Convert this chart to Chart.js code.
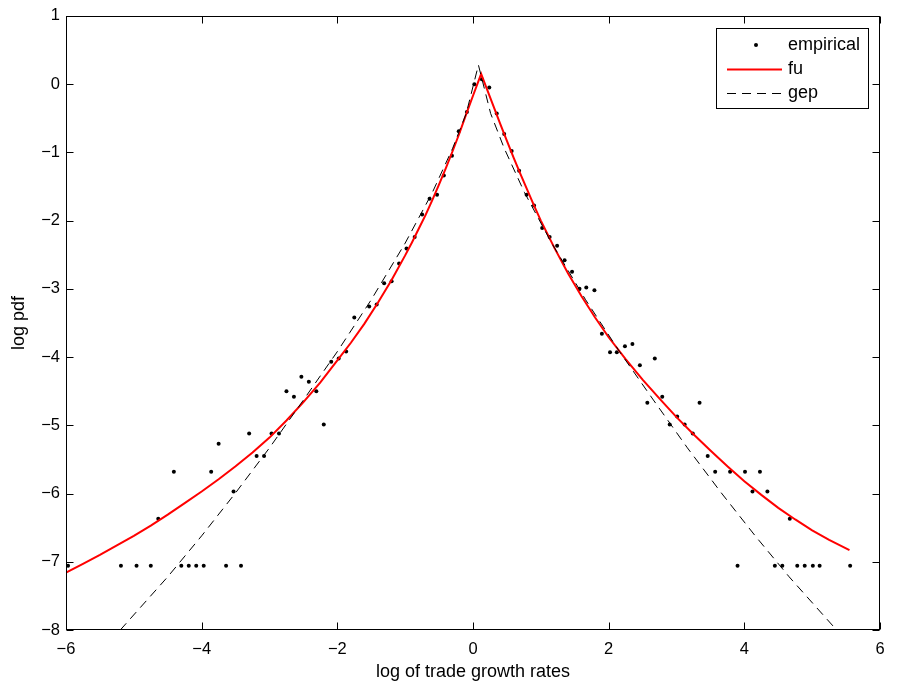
<!DOCTYPE html>
<html>
<head>
<meta charset="utf-8">
<script src="https://cdn.jsdelivr.net/npm/chart.js@4.4.0/dist/chart.umd.min.js"></script>
<style>
  html, body { margin: 0; padding: 0; background: #fff; }
  #wrap { width: 898px; height: 688px; }
</style>
</head>
<body>
<div id="wrap"><canvas id="chart" width="898" height="688"></canvas></div>
<script>
// empirical log pdf (binned)
const empX = [-5.97, -5.19, -4.96, -4.75, -4.64, -4.41, -4.30, -4.19, -4.08, -3.97,
  -3.86, -3.75, -3.64, -3.53, -3.42, -3.30, -3.19, -3.08, -2.97, -2.86,
  -2.75, -2.64, -2.53, -2.42, -2.31, -2.20, -2.09, -1.98, -1.87, -1.75,
  -1.53, -1.42, -1.31, -1.20, -1.09, -0.98, -0.86, -0.75, -0.64, -0.53,
  -0.43, -0.31, -0.21, -0.09, 0.02, 0.13, 0.24, 0.35, 0.46, 0.57,
  0.68, 0.79, 0.90, 1.02, 1.13, 1.24, 1.35, 1.46, 1.57, 1.67,
  1.79, 1.90, 2.02, 2.12, 2.24, 2.35, 2.46, 2.57, 2.68, 2.79,
  2.90, 3.01, 3.12, 3.24, 3.34, 3.46, 3.57, 3.79, 3.90, 4.01,
  4.12, 4.23, 4.34, 4.45, 4.56, 4.67, 4.78, 4.89, 5.01, 5.11, 5.56]
const empY = [-7.06, -7.06, -7.06, -7.06, -6.37, -5.68, -7.06, -7.06, -7.06, -7.06,
  -5.68, -5.27, -7.06, -5.97, -7.06, -5.12, -5.45, -5.45, -5.12, -5.12,
  -4.50, -4.58, -4.29, -4.36, -4.50, -4.99, -4.07, -4.02, -3.92, -3.42,
  -3.26, -3.23, -2.92, -2.89, -2.63, -2.41, -2.24, -1.91, -1.68, -1.62,
  -1.34, -1.05, -0.69, -0.41, 0.00, 0.07, -0.05, -0.43, -0.73, -0.98,
  -1.27, -1.62, -1.78, -2.11, -2.24, -2.37, -2.58, -2.75, -3.00, -2.98,
  -3.02, -3.66, -3.93, -3.93, -3.84, -3.81, -4.12, -4.67, -4.02, -4.58,
  -4.99, -4.87, -4.99, -5.12, -4.67, -5.45, -5.68, -5.68, -7.06, -5.68,
  -5.97, -5.68, -5.97, -7.06, -7.06, -6.37, -7.06, -7.06, -7.06, -7.06, -7.06]

// fu fit curve
const fuX = [-6.0, -5.75, -5.5, -5.25, -5.0, -4.75, -4.5, -4.25, -4.0, -3.75,
  -3.5, -3.25, -3.0, -2.75, -2.5, -2.25, -2.0, -1.8, -1.6, -1.4,
  -1.2, -1.0, -0.9, -0.8, -0.7, -0.6, -0.5, -0.4, -0.3, -0.2,
  -0.1, 0.0, 0.12, 0.2, 0.3, 0.4, 0.5, 0.6, 0.7, 0.8,
  0.9, 1.0, 1.2, 1.4, 1.6, 1.8, 2.0, 2.25, 2.5, 2.75,
  3.0, 3.25, 3.5, 3.75, 4.0, 4.25, 4.5, 4.75, 5.0, 5.25, 5.55]
const fuY = [-7.16, -7.03, -6.90, -6.76, -6.62, -6.47, -6.31, -6.14, -5.97, -5.79,
  -5.60, -5.40, -5.18, -4.93, -4.66, -4.37, -4.05, -3.79, -3.51, -3.20,
  -2.87, -2.51, -2.32, -2.12, -1.92, -1.70, -1.47, -1.23, -0.98, -0.72,
  -0.44, -0.17, 0.15, -0.06, -0.32, -0.58, -0.83, -1.08, -1.32, -1.55,
  -1.78, -2.00, -2.40, -2.77, -3.11, -3.42, -3.71, -4.03, -4.33, -4.61,
  -4.88, -5.13, -5.37, -5.60, -5.82, -6.02, -6.21, -6.38, -6.54, -6.68, -6.83]

// gep fit curve
const gepX = [-5.2, -4.5, -4.0, -3.5, -3.0, -2.5, -2.0, -1.5, -1.0, -0.6,
  -0.3, -0.1, 0.08, 0.26, 0.46, 0.76, 1.16, 1.66, 2.16, 2.66,
  3.16, 3.66, 4.16, 4.66, 5.36]
const gepY = [-8.0, -7.22, -6.62, -5.99, -5.33, -4.63, -3.92, -3.16, -2.33, -1.59,
  -0.94, -0.43, 0.28, -0.43, -0.94, -1.59, -2.33, -3.16, -3.92, -4.63,
  -5.33, -5.99, -6.62, -7.22, -8.0]

const xTicks = [-6, -4, -2, 0, 2, 4, 6]
const yTicks = [-8, -7, -6, -5, -4, -3, -2, -1, 0, 1]

const pairs = (xs, ys) => xs.map((x, i) => ({ x, y: ys[i] }))
const fmt = (v) => String(v).replace('-', '\u2212')
const FONT = "'Liberation Sans', Arial, Helvetica, sans-serif"

// MATLAB style box with inward ticks on all sides, plus the legend
const matlabFrame = {
  id: 'matlabFrame',
  afterDraw(chart) {
    const { ctx, chartArea: a, scales } = chart
    const L = Math.round(a.left) + 0.5, R = Math.round(a.right) - 0.5
    const T = Math.round(a.top) + 0.5, B = Math.round(a.bottom) - 0.5
    ctx.save()
    ctx.strokeStyle = '#000'
    ctx.lineWidth = 1
    ctx.strokeRect(L, T, R - L, B - T)
    const tl = 7
    ctx.beginPath()
    xTicks.forEach((v) => {
      const px = Math.round(scales.x.getPixelForValue(v)) + 0.5
      ctx.moveTo(px, B); ctx.lineTo(px, B - tl)
      ctx.moveTo(px, T); ctx.lineTo(px, T + tl)
    })
    yTicks.forEach((v) => {
      const py = Math.round(scales.y.getPixelForValue(v)) + 0.5
      ctx.moveTo(L, py); ctx.lineTo(L + tl, py)
      ctx.moveTo(R, py); ctx.lineTo(R - tl, py)
    })
    ctx.stroke()

    // legend
    const box = { x: 716.5, y: 28.5, w: 152, h: 80 }
    ctx.fillStyle = '#fff'
    ctx.fillRect(box.x, box.y, box.w, box.h)
    ctx.strokeRect(box.x, box.y, box.w, box.h)
    const rows = [45, 69, 93]
    ctx.font = '18px ' + FONT
    ctx.textBaseline = 'middle'
    ctx.textAlign = 'left'
    chart.data.datasets.forEach((ds, i) => {
      const y = rows[i]
      if (ds.showLine === false) {
        ctx.fillStyle = ds.pointBackgroundColor
        ctx.beginPath()
        ctx.arc(756, y, ds.pointRadius, 0, Math.PI * 2)
        ctx.fill()
      } else {
        ctx.strokeStyle = ds.borderColor
        ctx.lineWidth = ds.borderWidth
        ctx.setLineDash(ds.borderDash || [])
        ctx.beginPath()
        ctx.moveTo(727, y + 0.5)
        ctx.lineTo(782, y + 0.5)
        ctx.stroke()
        ctx.setLineDash([])
      }
      ctx.fillStyle = '#000'
      ctx.fillText(ds.label, 788, y)
    })
    ctx.restore()
  },
}

const tickStyle = { color: '#000', font: { family: FONT, size: 16.5 } }
const titleFont = { family: FONT, size: 18 }

new Chart(document.getElementById('chart'), {
  type: 'scatter',
  data: {
    datasets: [
      {
        label: 'empirical',
        data: pairs(empX, empY),
        showLine: false,
        pointRadius: 2,
        pointBackgroundColor: '#000',
        pointBorderWidth: 0,
        order: 3,
      },
      {
        label: 'fu',
        data: pairs(fuX, fuY),
        showLine: true,
        borderColor: '#ff0000',
        borderWidth: 2,
        pointRadius: 0,
        order: 2,
      },
      {
        label: 'gep',
        data: pairs(gepX, gepY),
        showLine: true,
        borderColor: '#000',
        borderWidth: 1,
        borderDash: [9, 6],
        pointRadius: 0,
        order: 1,
      },
    ],
  },
  options: {
    responsive: false,
    animation: false,
    devicePixelRatio: 1,
    layout: { padding: { left: 0, top: 15, right: 18, bottom: 5 } },
    scales: {
      x: {
        type: 'linear',
        min: -6,
        max: 6,
        afterFit: (s) => { s.height = 53 },
        afterBuildTicks: (s) => { s.ticks = xTicks.map((v) => ({ value: v })) },
        grid: { display: false, drawTicks: false },
        border: { display: false },
        ticks: { ...tickStyle, padding: 10, autoSkip: false, maxRotation: 0, callback: fmt },
        title: { display: true, text: 'log of trade growth rates', color: '#000', font: titleFont, padding: { top: 0, bottom: 0 } },
      },
      y: {
        type: 'linear',
        min: -8,
        max: 1,
        afterFit: (s) => { s.width = 66 },
        afterBuildTicks: (s) => { s.ticks = yTicks.map((v) => ({ value: v })) },
        grid: { display: false, drawTicks: false },
        border: { display: false },
        ticks: { ...tickStyle, padding: 6, autoSkip: false, callback: fmt },
        title: { display: true, text: 'log pdf', color: '#000', font: titleFont, padding: { top: 8, bottom: 0 } },
      },
    },
    plugins: {
      legend: { display: false },
      tooltip: { enabled: false },
    },
  },
  plugins: [matlabFrame],
})
</script>
</body>
</html>
